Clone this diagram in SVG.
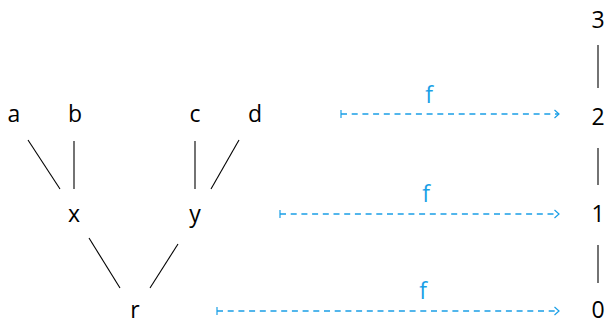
<svg xmlns="http://www.w3.org/2000/svg" width="611" height="323" viewBox="0 0 611 323">
<defs>
<style>
.t{font-family:"Open Sans","DejaVu Sans",sans-serif;font-size:23px;fill:#000;text-anchor:middle}
.f{font-family:"Open Sans","DejaVu Sans",sans-serif;font-size:23px;fill:#1a9fe6;text-anchor:middle}
.e{stroke:#000;stroke-width:1.1;fill:none}
.m{stroke:#1a9fe6;stroke-width:1.3;fill:none;stroke-dasharray:6 4.7}
</style>
<marker id="head" viewBox="0 0 10 10" refX="9" refY="5" markerWidth="10" markerHeight="10" markerUnits="userSpaceOnUse" orient="auto">
<path d="M4.5,1 L9,5 L4.5,9" fill="none" stroke="#1a9fe6" stroke-width="1.2"/>
</marker>
<marker id="tail" viewBox="0 0 10 10" refX="1" refY="5" markerWidth="10" markerHeight="10" markerUnits="userSpaceOnUse" orient="auto">
<path d="M1,1 L1,9" fill="none" stroke="#1a9fe6" stroke-width="1.2"/>
</marker>
</defs>
<g id="node-a"><text class="t" x="14" y="122">a</text></g>
<g id="node-b"><text class="t" x="75" y="122">b</text></g>
<g id="node-c"><text class="t" x="195" y="122">c</text></g>
<g id="node-d"><text class="t" x="255" y="122">d</text></g>
<g id="node-x"><text class="t" x="74" y="222">x</text></g>
<g id="node-y"><text class="t" x="195" y="222">y</text></g>
<g id="node-r"><text class="t" x="135" y="318">r</text></g>
<g id="node-3"><text class="t" x="598" y="28">3</text></g>
<g id="node-2"><text class="t" x="598" y="125">2</text></g>
<g id="node-1"><text class="t" x="598" y="222">1</text></g>
<g id="node-0"><text class="t" x="598" y="318">0</text></g>
<g id="connectors">
<line class="e" x1="28" y1="140" x2="60" y2="189"/>
<line class="e" x1="74" y1="141" x2="74" y2="189"/>
<line class="e" x1="195" y1="141" x2="195" y2="189"/>
<line class="e" x1="239" y1="140" x2="211" y2="189"/>
<line class="e" x1="89" y1="238" x2="120" y2="288"/>
<line class="e" x1="178" y1="244" x2="150" y2="288"/>
<line class="e" x1="598" y1="45" x2="598" y2="88"/>
<line class="e" x1="598" y1="148" x2="598" y2="185"/>
<line class="e" x1="598" y1="245" x2="598" y2="283"/>
<line class="m" x1="341" y1="114" x2="559" y2="114" marker-start="url(#tail)" marker-end="url(#head)"/>
<line class="m" x1="280" y1="214" x2="559" y2="214" marker-start="url(#tail)" marker-end="url(#head)"/>
<line class="m" x1="217" y1="311" x2="559" y2="311" marker-start="url(#tail)" marker-end="url(#head)"/>
<text class="f" x="429" y="103">f</text>
<text class="f" x="426" y="202">f</text>
<text class="f" x="423" y="299">f</text>
</g>
</svg>
